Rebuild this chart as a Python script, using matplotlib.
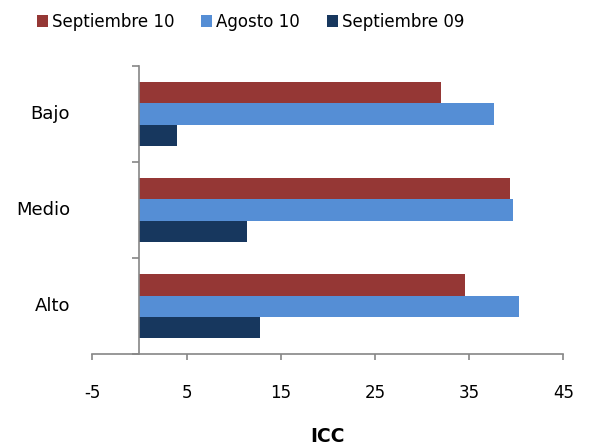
import matplotlib
matplotlib.use("Agg")
import matplotlib.pyplot as plt
import numpy as np

categories = ["Alto", "Medio", "Bajo"]
series_names = ["Septiembre 10", "Agosto 10", "Septiembre 09"]
sep10 = [34.6, 39.3, 32.0]
ago10 = [40.3, 39.7, 37.6]
sep09 = [12.8, 11.4, 4.0]
colors = ["#953735", "#558ED5", "#17375E"]
xticks = [-5, 5, 15, 25, 35, 45]

plt.rcParams['font.family'] = ['DejaVu Sans']
fig = plt.figure(figsize=(5.89, 4.46), dpi=100)
ax = fig.add_axes([0.1567, 0.2056, 0.7997, 0.6464])

y = np.arange(len(categories))
h = 0.222
for i, (vals, name, c) in enumerate(zip([sep10, ago10, sep09], series_names, colors)):
    ax.barh(y + (1 - i) * h, vals, height=h, color=c, label=name)

ax.set_xlim(-5, 45)
ax.set_ylim(-0.5, 2.5)
ax.set_xticks(xticks)
ax.set_xticklabels([str(t) for t in xticks], fontsize=12)

# y spine at zero, boundary ticks only
ax.spines['left'].set_position(('data', 0))
ax.set_yticks([-0.5, 0.5, 1.5, 2.5])
ax.set_yticklabels([])
for s in ['top', 'right']:
    ax.spines[s].set_visible(False)
for s in ['left', 'bottom']:
    ax.spines[s].set_color('#868686')
    ax.spines[s].set_linewidth(1.2)
ax.tick_params(axis='x', length=4.5, width=1.2, color='#868686', pad=17)
ax.tick_params(axis='y', length=5, width=1.2, color='#868686')

for yi, cat in zip(y, categories):
    ax.text(-0.047, yi, cat, transform=ax.get_yaxis_transform(),
            ha='right', va='center', fontsize=13)

fig.text(328 / 589, 1 - 437 / 446, "ICC", ha='center', va='center',
         fontsize=13.5, fontweight='bold')

fig.legend(loc='center', bbox_to_anchor=(0.425, 0.951), ncol=3, frameon=False,
           fontsize=12, handlelength=0.66, handleheight=0.66, handletextpad=0.25,
           columnspacing=1.6, borderaxespad=0)

fig.savefig("out.png", dpi=100)
